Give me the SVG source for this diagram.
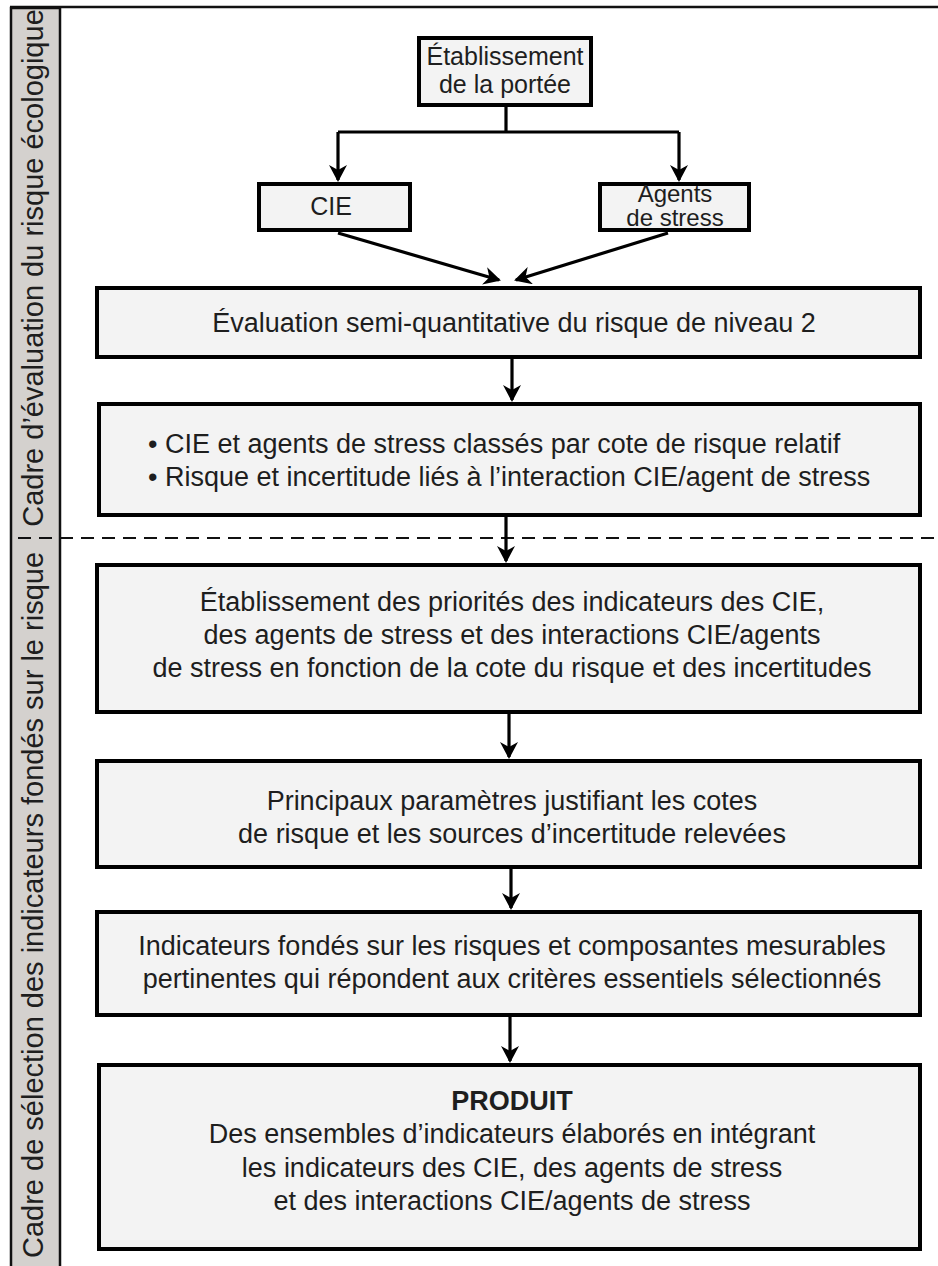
<svg xmlns="http://www.w3.org/2000/svg" width="938" height="1266" viewBox="0 0 938 1266">
<defs>
<style>
.box{fill:#f3f3f3;stroke:#000;stroke-width:4}
.t{font-family:"Liberation Sans",Arial,sans-serif;fill:#1e1e1e;text-anchor:middle}
.s24{font-size:24px}
.s25{font-size:25px}
.s27{font-size:27px}
.side{font-family:"Liberation Sans",Arial,sans-serif;font-size:29px;fill:#1e1e1e;text-anchor:middle}
.c{fill:none;stroke:#000;stroke-width:3.2}
</style>
<marker id="ah" markerUnits="userSpaceOnUse" markerWidth="18" markerHeight="18" refX="15" refY="9" orient="auto" viewBox="0 0 18 18">
<path d="M0,0 L17,9 L0,18 L5,9 z" fill="#000"/>
</marker>
</defs>
<rect width="938" height="1266" fill="#fff"/>
<g id="frame">
<line x1="10" y1="7" x2="938" y2="7" stroke="#111" stroke-width="2.5"/>
<rect x="11" y="8" width="49" height="1262" fill="#d4d1ce" stroke="#111" stroke-width="2.5"/>
<line x1="18" y1="538" x2="938" y2="538" stroke="#111" stroke-width="2" stroke-dasharray="13 8"/>
<text class="side" transform="translate(43,268) rotate(-90)">Cadre d’évaluation du risque écologique</text>
<text class="side" transform="translate(43,905) rotate(-90)">Cadre de sélection des indicateurs fondés sur le risque</text>
</g>
<g id="connectors">
<path class="c" d="M506,107 V132 M338,132 H679"/>
<path class="c" d="M338,132 V180" marker-end="url(#ah)"/>
<path class="c" d="M679,132 V180" marker-end="url(#ah)"/>
<path class="c" d="M338,233 L499,280" marker-end="url(#ah)"/>
<path class="c" d="M668,233 L516,280" marker-end="url(#ah)"/>
<path class="c" d="M512,359 V400" marker-end="url(#ah)"/>
<path class="c" d="M506,517 V561" marker-end="url(#ah)"/>
<path class="c" d="M509,714 V757" marker-end="url(#ah)"/>
<path class="c" d="M511,869 V908" marker-end="url(#ah)"/>
<path class="c" d="M510,1017 V1061" marker-end="url(#ah)"/>
</g>
<g id="n-portee">
<rect class="box" x="419" y="38" width="172" height="67"/>
<text class="t s25" x="505" y="65">Établissement</text>
<text class="t s25" x="505" y="93">de la portée</text>
</g>
<g id="n-cie">
<rect class="box" x="259" y="184" width="151" height="46"/>
<text class="t s25" x="331" y="215">CIE</text>
</g>
<g id="n-agents">
<rect class="box" x="600" y="184" width="149" height="46"/>
<text class="t s24" x="675" y="202">Agents</text>
<text class="t s24" x="675" y="226">de stress</text>
</g>
<g id="n-eval">
<rect class="box" x="97" y="288" width="823" height="69"/>
<text class="t s27" x="514" y="332">Évaluation semi-quantitative du risque de niveau 2</text>
</g>
<g id="n-classes">
<rect class="box" x="99" y="404" width="821" height="111"/>
<text class="t s27" x="148" y="453" style="text-anchor:start">• CIE et agents de stress classés par cote de risque relatif</text>
<text class="t s27" x="148" y="486" style="text-anchor:start">• Risque et incertitude liés à l’interaction CIE/agent de stress</text>
</g>
<g id="n-priorites">
<rect class="box" x="97" y="565" width="823" height="147"/>
<text class="t s27" x="512" y="611">Établissement des priorités des indicateurs des CIE,</text>
<text class="t s27" x="512" y="644">des agents de stress et des interactions CIE/agents</text>
<text class="t s27" x="512" y="677">de stress en fonction de la cote du risque et des incertitudes</text>
</g>
<g id="n-parametres">
<rect class="box" x="97" y="761" width="823" height="106"/>
<text class="t s27" x="512" y="810">Principaux paramètres justifiant les cotes</text>
<text class="t s27" x="512" y="843">de risque et les sources d’incertitude relevées</text>
</g>
<g id="n-indicateurs">
<rect class="box" x="97" y="912" width="823" height="103"/>
<text class="t s27" x="512" y="955">Indicateurs fondés sur les risques et composantes mesurables</text>
<text class="t s27" x="512" y="988">pertinentes qui répondent aux critères essentiels sélectionnés</text>
</g>
<g id="n-produit">
<rect class="box" x="99" y="1065" width="821" height="184"/>
<text class="t s27" x="512" y="1110" style="font-weight:bold">PRODUIT</text>
<text class="t s27" x="512" y="1143">Des ensembles d’indicateurs élaborés en intégrant</text>
<text class="t s27" x="512" y="1177">les indicateurs des CIE, des agents de stress</text>
<text class="t s27" x="512" y="1210">et des interactions CIE/agents de stress</text>
</g>
</svg>
